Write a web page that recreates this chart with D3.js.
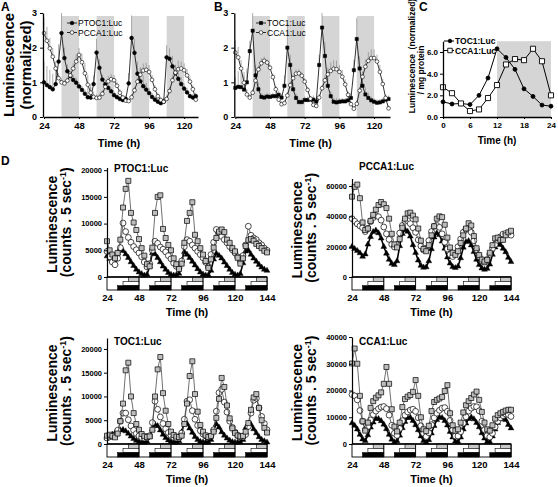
<!DOCTYPE html>
<html><head><meta charset="utf-8">
<script src="https://cdn.jsdelivr.net/npm/d3@7/dist/d3.min.js"></script>
<style>
body{margin:0;background:#fff}
svg{display:block}
</style></head><body>
<svg id="chart" width="558" height="487" viewBox="0 0 558 487"></svg>
<script>
// ================= DATA =================
// Panel A & B (normalized luminescence, hours)
const timesA = [24,26,28,30,32,34,36,38,40,42,44,46,48,50,52,54,56,58,60,62,64,66,68,70,72,74,76,78,80,82,84,86,88,90,92,94,96,98,100,102,104,106,108,110,112,114,116,118,120,122,124,126,128];
const ptocA = [1.0,0.92,0.86,0.8,0.95,1.6,2.42,1.7,1.32,1.18, 1.07,0.99,0.88,0.78,0.67,0.57,0.56,0.95,1.86,1.42, 1.08,0.94,0.84,0.74,0.63,0.57,0.52,0.49,0.52,0.97, 2.28,1.85,1.25,1.03,0.89,0.79,0.69,0.58,0.5,0.44, 0.4,0.44,1.72,1.68,1.46,1.26,1.1,0.95,0.82,0.71, 0.6,0.56,0.6];
const ptocAErr = [0.6,0.55,0.5,0.45,0.4,0.5,0.6,0.3,0.2,0.15, 0.15,0.15,0.12,0.12,0.12,0.3,0.3,0.25,0.4,0.25, 0.15,0.12,0.1,0.1,0.1,0.08,0.08,0.08,0.1,0.3, 0.65,0.4,0.35,0.4,0.3,0.2,0.15,0.12,0.1,0.08, 0.08,0.1,0.35,0.3,0.3,0.25,0.25,0.2,0.15,0.12, 0.1,0.1,0.1];
const pccaA = [2.42,2.2,1.98,1.74,1.4,1.12,1.0,0.97,1.05,1.2, 1.4,1.6,1.79,1.58,1.26,0.93,0.7,0.58,0.55,0.56, 0.67,0.87,1.03,1.09,1.06,0.9,0.7,0.56,0.47,0.46, 0.57,0.77,1.02,1.22,1.34,1.36,1.3,1.07,0.8,0.6, 0.49,0.44,0.52,0.75,1.06,1.28,1.38,1.4,1.35,1.2, 1.02,0.8,0.5];
const pccaAErr = [0.45,0.4,0.3,0.25,0.2,0.15,0.12,0.1,0.1,0.12, 0.15,0.2,0.2,0.25,0.3,0.3,0.25,0.15,0.1,0.1, 0.1,0.15,0.15,0.15,0.15,0.12,0.1,0.08,0.08,0.08, 0.1,0.1,0.12,0.2,0.2,0.2,0.2,0.15,0.12,0.1, 0.08,0.08,0.1,0.12,0.15,0.2,0.25,0.2,0.2,0.18, 0.15,0.12,0.1];

const timesB = [24,26,28,30,32,34,36,38,40,42,44,46,48,50,52,54,56,58,60,62,64,66,68,70,72,74,76,78,80,82,84,86,88,90,92,94,96,98,100,102,104,106,108,110,112,114,116,118,120,122,124,126,128,130];
const tocB = [0.84,0.87,0.86,0.79,1.0,1.9,2.49,1.2,0.8,0.58, 0.56,0.59,0.58,0.6,0.6,0.64,0.56,0.9,2.0,1.5, 0.8,0.55,0.43,0.43,0.49,0.49,0.5,0.5,0.45,1.5, 2.58,1.76,0.9,0.6,0.44,0.42,0.44,0.45,0.45,0.48, 0.55,1.35,2.25,1.4,0.9,0.65,0.55,0.48,0.44,0.41, 0.42,0.45,0.5,0.52];
const tocBErr = [0.3,0.45,0.6,0.5,0.4,0.3,0.55,0.3,0.2,0.1, 0.1,0.1,0.1,0.1,0.12,0.12,0.1,0.3,0.7,0.3, 0.2,0.12,0.1,0.1,0.1,0.1,0.1,0.12,0.12,0.3, 0.45,0.4,0.25,0.15,0.12,0.12,0.1,0.1,0.1,0.12, 0.15,0.3,0.6,0.35,0.25,0.2,0.15,0.1,0.1,0.1, 0.1,0.1,0.1,0.1];
const ccaB = [1.86,1.72,1.4,0.99,0.65,0.56,0.7,1.05,1.37,1.55, 1.62,1.57,1.42,1.15,0.8,0.5,0.37,0.4,0.62,0.92, 1.12,1.25,1.26,1.19,1.02,0.78,0.53,0.35,0.32,0.56, 0.83,1.06,1.23,1.33,1.39,1.38,1.3,1.16,0.94,0.64, 0.37,0.24,0.38,0.76,1.16,1.45,1.62,1.7,1.7,1.6, 1.3,0.95,0.55,0.25];
const ccaBErr = [0.35,0.3,0.25,0.2,0.15,0.1,0.1,0.12,0.12,0.15, 0.12,0.1,0.1,0.1,0.1,0.08,0.08,0.08,0.1,0.1, 0.1,0.12,0.12,0.1,0.1,0.08,0.08,0.08,0.08,0.1, 0.1,0.15,0.2,0.25,0.25,0.25,0.2,0.2,0.15,0.1, 0.08,0.08,0.1,0.1,0.15,0.2,0.25,0.25,0.25,0.2, 0.2,0.15,0.1,0.08];
const nightStarts = [36,60,84,108];
const ticksAB = [24,48,72,96,120];

// Panel C (per mg protein)
const timesC = [0,2,4,6,8,10,12,14,16,18,20,22,24];
const tocC = [1.4,1.2,1.25,1.15,2.0,3.6,6.3,5.5,4.4,2.6,1.9,1.1,1.0];
const ccaC = [2.75,2.2,1.25,0.55,0.7,1.75,2.95,4.85,5.35,5.25,6.3,5.15,2.0];
const ticksCx = [0,6,12,18,24];
const ticksCy = [0,2,4,6];

// Panel D (counts . 5 sec-1) : squares = LD16:8, circles = LD12:12, triangles = LD8:16
const timesD = [24,26,28,30,32,34,36,38,40,42,44,46,48,50,52,54,56,58,60,62,64,66,68,70,72,74,76,78,80,82,84,86,88,90,92,94,96,98,100,102,104,106,108,110,112,114,116,118,120,122,124,126,128,130,132,134,136,138,140,142,144];
const ptocSq = [6700,5000,4200,3500,4500,7000,13000,16500,18000,12000, 10200,8800,7100,5400,4000,2400,2000,5500,12000,15000, 15300,9000,7300,6000,5000,3500,2400,1500,2500,6400, 10500,12000,14000,7900,6700,5400,4200,3000,1700,3300, 5500,7300,8500,8900,8400,7000,6400,5400,4800,3600, 2500,3500,5800,6900,7100,6800,6200,5800,5400,4900, 4600];
const ptocCi = [4800,3800,2800,2300,3500,5500,10100,8500,7400,6500, 5700,5100,4500,3800,2800,1900,2500,5000,6700,6300, 5600,5200,4700,4000,3400,2600,2000,1700,3000,5700, 7000,6700,6000,5400,4800,4200,3600,2750,1900,4200, 6500,8900,8300,7600,7000,6400,5700,5100,4500,3750, 2900,4000,6000,9500,7800,7300,7000,6400,6000,5400, 5000];
const ptocTr = [3900,3400,3000,2600,4500,5400,4900,4300,3600,2800, 2100,1400,900,560,300,450,2000,4500,4300,3600, 2800,2000,1400,800,450,300,375,625,3000,4700, 4200,3600,2900,2200,1500,900,500,320,350,1200, 3300,4400,4000,3500,2750,2100,1400,800,450,300, 600,2600,4800,5000,4200,3500,2900,2300,1800,1400, 1200];
const pccaSq = [53000,59500,61000,52000,36000,31000,32000,37000,41000,44500, 47500,49500,48000,45500,38500,28500,21500,19500,25000,32500, 38500,42000,42500,40500,38000,32000,24000,18500,17000,21000, 27500,33500,38500,40000,39500,34500,26000,19500,16000,14600, 17000,22500,27500,32000,35500,34000,27000,19000,14500,11500, 10200,11300,16000,21000,25500,26000,24500,24500,27500,29500, 30500];
const pccaCi = [38500,36800,35000,33700,32500,30000,32000,36500,39200,40500, 39800,37500,33000,28500,24800,21500,19800,21500,29000,34000, 36800,37200,35200,32500,29500,24500,20500,17800,19000,24000, 30000,33500,34000,32800,28500,23000,18500,14800,13500,15500, 20000,25000,29500,31500,31500,29500,24000,18000,13500,10500, 9800,11500,15000,18800,21500,24200,26500,28300,28700,28500, 27600];
const pccaTr = [20000,18600,17300,15800,13500,15000,21500,26500,29800,30800, 29000,25500,20000,15500,11500,8800,8000,10500,20500,28500, 31200,30000,26800,21100,16000,11000,7500,6300,6500,10500, 18500,26200,29000,27800,23500,18800,13000,9000,6700,6000, 7000,12500,19500,23200,23800,21000,16700,11500,8000,5800, 4900,5500,8300,14800,19600,22000,21300,18800,16500,12800, 10000];
const tocSq = [1750,1950,1700,1400,2200,4800,8500,15500,17100,10000, 6500,4200,3000,2100,1650,1470,1600,3000,10000,15700, 18300,10700,7000,4200,2600,1900,1550,1470,1750,4200, 8500,14300,17400,10500,6800,4000,2600,1800,1470,1700, 2600,5500,9500,13900,12000,8100,5400,3300,2300,1800, 1600,1700,2600,4400,7200,9800,10500,7600,5000,3400, 2400];
const tocCi = [1260,1500,1600,1800,2900,4800,6500,6500,5100,3800, 2900,2200,1700,1350,1260,1300,1750,4500,9000,7300, 5700,4300,3200,2400,1800,1400,1260,1260,2300,5200, 9000,9300,7000,5200,3900,2800,2100,1700,1470,1700, 3000,6900,10800,11500,8800,6700,4800,3500,2500,1800, 1500,1470,2000,3700,6500,9200,9600,7600,5800,4300, 3000];
const tocTr = [1260,1600,2000,2300,2600,2900,3000,2700,2200,1600, 1100,700,450,350,350,500,1500,3150,4100,3800, 2900,2000,1300,800,500,350,350,600,2500,4600, 4300,3300,2400,1500,900,500,380,350,400,900, 3000,4200,3500,2500,1800,1200,750,450,350,350, 350,900,3400,4300,4100,3150,2300,1470,900,600, 350];
const ccaSq = [30100,35700,30000,18000,8500,5000,8000,13500,16000,17300, 18200,19300,22500,28800,22500,13000,6500,4700,8000,13800, 16800,17700,18300,19500,23900,18000,10000,5500,4800,6800, 12300,15700,16500,17000,17600,19800,22000,11500,7000,5000, 5500,8000,11800,14500,16000,17200,18500,19600,16500,12000, 8000,5500,5000,7000,9500,10800,11500,12000,12500,12800, 12800];
const ccaCi = [18500,18000,16500,12500,8400,5300,6500,9000,11000,12300, 13200,13800,14000,13200,10800,7000,4000,3200,5800,8700, 10800,12000,12700,13000,12200,9800,6800,4000,2800,4200, 7200,9800,11500,12600,13400,13600,12200,8800,5300,3000, 3000,4600,7800,10200,12300,13400,14000,13900,12400,8500, 5300,3100,2600,4000,6400,8500,9800,10600,11200,11000, 10300];
const ccaTr = [7800,6900,5500,3500,1800,1200,3300,6200,8100,9500, 9400,8600,7300,5600,3500,1700,700,1100,3200,6000, 8300,9800,9900,8700,7100,5200,2900,1200,650,1500, 4000,6800,9000,10000,9800,8700,7000,4600,2500,1000, 800,2500,5500,7700,9400,10000,9300,7900,6300,4100, 2100,800,800,2900,5500,7900,9300,9700,9000,7200, 5900];
const dayStarts = [24,48,72,96,120];
const lightHours = [16,12,8];           // LD16:8 (top row), LD12:12, LD8:16 (bottom row)
const ticksDx = [24,48,72,96,120,144];

// ================= DRAWING =================
const FONT = '"Liberation Sans", Arial, Helvetica, sans-serif';
const svg = d3.select("#chart").attr("font-family", FONT);
svg.append("rect").attr("width",558).attr("height",487).attr("fill","#fff");

function text(parent, x, y, s, size, weight, anchor) {
  return parent.append("text").attr("x",x).attr("y",y).text(s)
    .attr("font-size",size).attr("font-weight",weight||"bold")
    .attr("text-anchor",anchor||"start").attr("fill","#000").attr("font-family",FONT);
}
function vtext(parent, cx, cy, s, size) {
  return parent.append("text").attr("transform",`translate(${cx},${cy}) rotate(-90)`)
    .attr("text-anchor","middle").attr("dy","0.35em").attr("font-size",size)
    .attr("font-weight","bold").attr("fill","#000").attr("font-family",FONT).text(s);
}
function styleAxis(g, fs, sw) {
  g.attr("font-family",FONT);
  g.select(".domain").attr("stroke","#000").attr("stroke-width",sw||1.3);
  g.selectAll(".tick line").attr("stroke","#000").attr("stroke-width",1);
  g.selectAll(".tick text").attr("font-size",fs).attr("font-weight","bold").attr("fill","#000");
}
function sym(type, size) { return d3.symbol().type(type).size(size)(); }

// Panel letters
text(svg, 1, 11, "A", 12);
text(svg, 214, 11, "B", 12);
text(svg, 419, 11, "C", 12);
text(svg, 1, 165, "D", 12);

// ---------- Panels A & B ----------
function panelAB(cfg) {
  const g = svg.append("g");
  const x = d3.scaleLinear().domain(cfg.xd).range(cfg.xr);
  const y = d3.scaleLinear().domain([0,3]).range([117,13]);
  g.selectAll("rect.band").data(nightStarts).join("rect")
    .attr("x",d=>x(d)).attr("width",d=>x(d+12)-x(d))
    .attr("y",y(3)+3).attr("height",y(0)-y(3)-3).attr("fill","#d5d5d5");
  cfg.series.forEach(s => {
    g.append("g").selectAll("line").data(s.vals).join("line")
      .attr("x1",(d,i)=>x(cfg.times[i])).attr("x2",(d,i)=>x(cfg.times[i]))
      .attr("y1",d=>y(d)).attr("y2",(d,i)=>y(Math.min(3,d+s.err[i])))
      .attr("stroke","#8a8a8a").attr("stroke-width",0.7);
  });
  cfg.series.forEach(s => {
    const pts = s.vals.map((v,i)=>[cfg.times[i], v]);
    g.append("path").datum(pts).attr("fill","none").attr("stroke","#000").attr("stroke-width",0.8)
      .attr("d", d3.line().x(d=>x(d[0])).y(d=>y(d[1])));
    g.append("g").selectAll("path").data(pts).join("path")
      .attr("transform",d=>`translate(${x(d[0])},${y(d[1])})`)
      .attr("d", sym(s.shape, s.size))
      .attr("fill", s.fill).attr("stroke","#000").attr("stroke-width",0.6);
  });
  const ya = g.append("g").attr("transform",`translate(${cfg.xr[0]-1},0)`)
    .call(d3.axisLeft(y).tickValues([0,1,2,3]).tickSize(3).tickSizeOuter(0).tickPadding(3).tickFormat(d3.format("d")));
  styleAxis(ya, 9);
  const xa = g.append("g").attr("transform",`translate(0,${y(0)})`)
    .call(d3.axisBottom(x).tickValues(ticksAB).tickSize(2).tickSizeOuter(0).tickPadding(3));
  styleAxis(xa, 9.5);
  text(g, cfg.xr[0] + (cfg.xr[1]-cfg.xr[0])/2 - 2, 147, "Time (h)", 11, "bold", "middle");
  // legend
  cfg.series.forEach((s,k) => {
    const ly = 23 + k*9.5, lx = cfg.legX;
    g.append("line").attr("x1",lx).attr("x2",lx+10).attr("y1",ly).attr("y2",ly).attr("stroke","#000").attr("stroke-width",0.8);
    g.append("path").attr("transform",`translate(${lx+5},${ly})`).attr("d",sym(s.shape,s.size))
      .attr("fill",s.fill).attr("stroke","#000").attr("stroke-width",0.6);
    text(g, lx+11, ly+3, s.name, 8.5, "normal");
  });
}
panelAB({xd:[24,129.5], xr:[44,198], times:timesA, legX:67, series:[
  {name:"PTOC1:Luc", vals:ptocA, err:ptocAErr, shape:d3.symbolCircle, size:11, fill:"#000"},
  {name:"PCCA1:Luc", vals:pccaA, err:pccaAErr, shape:d3.symbolCircle, size:11, fill:"#fff"}
]});
panelAB({xd:[24,131], xr:[235.3,390], times:timesB, legX:256, series:[
  {name:"TOC1:Luc", vals:tocB, err:tocBErr, shape:d3.symbolSquare, size:10, fill:"#000"},
  {name:"CCA1:Luc", vals:ccaB, err:ccaBErr, shape:d3.symbolCircle, size:11, fill:"#fff"}
]});
vtext(svg, 9, 65, "Luminescence", 15);
vtext(svg, 26, 65, "(normalized)", 15);

// ---------- Panel C ----------
(function(){
  const g = svg.append("g");
  const x = d3.scaleLinear().domain([0,24]).range([443,551]);
  const y = d3.scaleLinear().domain([0,7]).range([117,41.2]);
  g.append("rect").attr("x",x(12)).attr("width",x(24)-x(12)).attr("y",y(7)).attr("height",y(0)-y(7)).attr("fill","#d5d5d5");
  const sets = [
    {name:"TOC1:Luc", vals:tocC, shape:d3.symbolCircle, size:12, fill:"#000"},
    {name:"CCA1:Luc", vals:ccaC, shape:d3.symbolSquare, size:26, fill:"#fff"}
  ];
  sets.forEach(s => {
    const pts = s.vals.map((v,i)=>[timesC[i], v]);
    g.append("path").datum(pts).attr("fill","none").attr("stroke","#000").attr("stroke-width",1)
      .attr("d", d3.line().x(d=>x(d[0])).y(d=>y(d[1])));
  });
  sets.forEach(s => {
    const pts = s.vals.map((v,i)=>[timesC[i], v]);
    g.append("g").selectAll("path").data(pts).join("path")
      .attr("transform",d=>`translate(${x(d[0])},${y(d[1])})`).attr("d",sym(s.shape,s.size))
      .attr("fill",s.fill).attr("stroke","#000").attr("stroke-width",0.9);
  });
  const ya = g.append("g").attr("transform",`translate(${x(0)},0)`)
    .call(d3.axisLeft(y).tickValues(ticksCy).tickSize(3).tickSizeOuter(0).tickPadding(2));
  styleAxis(ya, 8);
  const xa = g.append("g").attr("transform",`translate(0,${y(0)})`)
    .call(d3.axisBottom(x).tickValues(ticksCx).tickSize(2).tickSizeOuter(0).tickPadding(3));
  styleAxis(xa, 8);
  text(g, 497, 144, "Time (h)", 10, "bold", "middle");
  vtext(g, 412, 56, "Luminescence\u00a0\u00a0(normalized)", 8.5);
  vtext(g, 421, 70, "/ mg protein", 8.5);
  sets.forEach((s,k) => {
    const ly = 41 + k*9.5, lx = 444;
    g.append("line").attr("x1",lx).attr("x2",lx+10).attr("y1",ly).attr("y2",ly).attr("stroke","#000").attr("stroke-width",1);
    g.append("path").attr("transform",`translate(${lx+6},${ly})`).attr("d",sym(s.shape, k? 20:10))
      .attr("fill",s.fill).attr("stroke","#000").attr("stroke-width",0.9);
    text(g, lx+11, ly+3, s.name, 8.5, "bold");
  });
})();

// ---------- Panel D ----------
function panelD(cfg) {
  const g = svg.append("g");
  const x = d3.scaleLinear().domain([24,144]).range(cfg.xr);
  const y = d3.scaleLinear().domain([0,cfg.ymax]).range([cfg.y0, cfg.ytop]);
  const y0 = cfg.y0, bh = 13, rh = bh/3;
  // light regime box
  g.append("rect").attr("x",x(24)).attr("y",y0).attr("width",x(144)-x(24)).attr("height",bh)
    .attr("fill","#fff").attr("stroke","#000").attr("stroke-width",0.9);
  const fills = ["#c8c8c8","#fff","#000"];
  dayStarts.forEach(c => {
    lightHours.forEach((L,row) => {
      g.append("rect").attr("x",x(c+L)).attr("width",x(c+24)-x(c+L))
        .attr("y",y0+row*rh).attr("height",rh).attr("fill",fills[row])
        .attr("stroke","#000").attr("stroke-width",0.6);
    });
    g.append("line").attr("x1",x(c+24)).attr("x2",x(c+24)).attr("y1",y0).attr("y2",y0+bh)
      .attr("stroke","#000").attr("stroke-width",0.8);
  });
  // series (triangles, circles, squares)
  const sets = [
    {vals:cfg.tr, shape:d3.symbolTriangle, size:15, fill:"#000", sw:0.4, lc:"#000", lw:1.6},
    {vals:cfg.ci, shape:d3.symbolCircle, size:27, fill:"#fff", sw:0.7, lc:"#333", lw:0.7},
    {vals:cfg.sq, shape:d3.symbolSquare, size:25, fill:"#bdbdbd", sw:0.7, lc:"#333", lw:0.7}
  ];
  sets.forEach(s => {
    const pts = s.vals.map((v,i)=>[timesD[i], v]);
    g.append("path").datum(pts).attr("fill","none").attr("stroke",s.lc).attr("stroke-width",s.lw)
      .attr("d", d3.line().x(d=>x(d[0])).y(d=>y(d[1])));
    g.append("g").selectAll("path").data(pts).join("path")
      .attr("transform",d=>`translate(${x(d[0])},${y(d[1])})`).attr("d",sym(s.shape,s.size))
      .attr("fill",s.fill).attr("stroke","#000").attr("stroke-width",s.sw);
  });
  // axes
  const ya = g.append("g").attr("transform",`translate(${x(24)},0)`)
    .call(d3.axisLeft(y).tickValues(cfg.yticks).tickSize(3).tickSizeOuter(0).tickPadding(2).tickFormat(d3.format("d")));
  styleAxis(ya, 7.5, 1.2);
  g.append("line").attr("x1",x(24)).attr("x2",x(144)).attr("y1",y0).attr("y2",y0).attr("stroke","#000").attr("stroke-width",1.4);
  const xa = g.append("g").attr("transform",`translate(0,${y0+bh})`)
    .call(d3.axisBottom(x).tickValues(ticksDx).tickSize(0).tickPadding(4));
  xa.select(".domain").remove();
  styleAxis(xa, 9.5);
  text(g, (cfg.xr[0]+cfg.xr[1])/2, y0+bh+26, "Time (h)", 11, "bold", "middle");
  text(g, x(24)+7, cfg.titleY, cfg.title, 10, "bold");
  vtext(g, cfg.labX, (cfg.ytop+y0)/2 + 2, "Luminescence", 14);
  const t2 = g.append("text").attr("transform",`translate(${cfg.labX+14},${(cfg.ytop+y0)/2})rotate(-90)`)
    .attr("text-anchor","middle").attr("dy","0.35em").attr("font-size",14).attr("font-weight","bold")
    .attr("font-family",FONT).attr("fill","#000");
  t2.append("tspan").text("(counts . 5 sec");
  t2.append("tspan").attr("dy",-5).attr("font-size",9).text("-1");
  t2.append("tspan").attr("dy",5).text(")");
}
panelD({xr:[107,267], y0:277, ytop:167.5, ymax:20500, yticks:[0,5000,10000,15000,20000],
        title:"PTOC1:Luc", titleY:172, labX:52, sq:ptocSq, ci:ptocCi, tr:ptocTr});
panelD({xr:[352,511], y0:277, ytop:178.5, ymax:65000, yticks:[0,20000,40000,60000],
        title:"PCCA1:Luc", titleY:170, labX:297, sq:pccaSq, ci:pccaCi, tr:pccaTr});
panelD({xr:[107,267], y0:444, ytop:338, ymax:22300, yticks:[0,5000,10000,15000,20000],
        title:"TOC1:Luc", titleY:345, labX:52, sq:tocSq, ci:tocCi, tr:tocTr});
panelD({xr:[352,511], y0:444, ytop:337, ymax:40000, yticks:[0,10000,20000,30000,40000],
        title:"CCA1:Luc", titleY:345, labX:297, sq:ccaSq, ci:ccaCi, tr:ccaTr});
</script>
</body></html>
